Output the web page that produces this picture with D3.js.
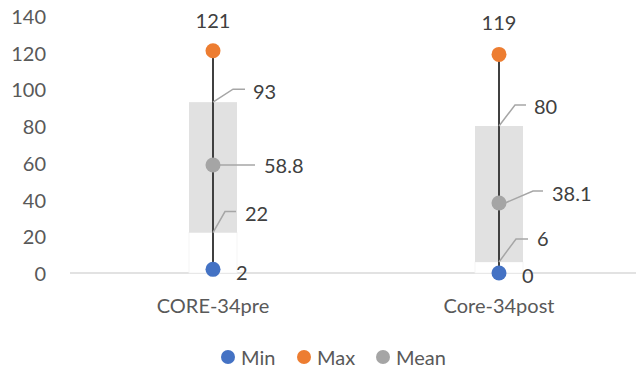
<!DOCTYPE html>
<html>
<head>
<meta charset="utf-8">
<script src="https://cdn.jsdelivr.net/npm/d3@7"></script>
<style>
  html, body { margin: 0; padding: 0; background: #fff; }
  svg { display: block; font-family: "Lato", "Open Sans", sans-serif; }
</style>
</head>
<body>
<svg id="chart" width="637" height="369"></svg>
<script>
// Score summary per questionnaire administration
const categories = ["CORE-34pre", "Core-34post"];
const minValues  = [2, 0];
const maxValues  = [121, 119];
const meanValues = [58.8, 38.1];
const boxLow     = [22, 6];
const boxHigh    = [93, 80];
const yTicks     = [0, 20, 40, 60, 80, 100, 120, 140];
const legendLabels = ["Min", "Max", "Mean"];

const colors = { Min: "#4472c4", Max: "#ed7d31", Mean: "#a5a5a5" };
const FS = 20;

// Label placement (leader elbow, leader end, text x, text dy) per category
const labelLayout = [
  {
    max:  { dy: -31 },
    min:  { dx: 23, dy: 3 },
    high: { elbow: [20, -13], end: 32, text: 40, ty: -11 },
    mean: { elbow: [42, 0],   end: 42, text: 51, ty: 0 },
    low:  { elbow: [12, -21], end: 23, text: 32, ty: -20 }
  },
  {
    max:  { dy: -32 },
    min:  { dx: 23, dy: 2 },
    high: { elbow: [16, -21], end: 27, text: 35, ty: -20 },
    mean: { elbow: [34, -12], end: 44, text: 53, ty: -10 },
    low:  { elbow: [17, -23], end: 29, text: 38, ty: -24 }
  }
];

const svg = d3.select("#chart");
const W = 637;

const x = d3.scaleBand().domain(categories).range([70, 642]);
const y = d3.scaleLinear().domain([0, 140]).range([273, 15.8]);

// Y axis tick labels
svg.append("g").selectAll("text")
  .data(yTicks).join("text")
  .attr("x", 46).attr("y", d => y(d))
  .attr("text-anchor", "end").attr("dominant-baseline", "central")
  .attr("fill", "#595959").attr("font-size", FS)
  .text(d => d);

// Baseline
svg.append("line")
  .attr("x1", 70).attr("x2", W - 1)
  .attr("y1", y(0)).attr("y2", y(0))
  .attr("stroke", "#d9d9d9").attr("stroke-width", 1.3);

// Category labels
svg.append("g").selectAll("text")
  .data(categories).join("text")
  .attr("x", d => x(d) + x.bandwidth() / 2).attr("y", 305)
  .attr("text-anchor", "middle").attr("dominant-baseline", "central")
  .attr("fill", "#595959").attr("font-size", FS)
  .text(d => d);

const boxW = 48;
const cx = i => x(categories[i]) + x.bandwidth() / 2;

categories.forEach((c, i) => {
  const g = svg.append("g");
  const xc = cx(i);

  // invisible lower stacked segment (0 to box low)
  g.append("rect")
    .attr("x", xc - boxW / 2).attr("width", boxW)
    .attr("y", y(boxLow[i])).attr("height", y(0) - y(boxLow[i]))
    .attr("fill", "#fff").attr("stroke", "#f3f3f3").attr("stroke-width", 0.8);

  // box from low to high
  g.append("rect")
    .attr("x", xc - boxW / 2).attr("width", boxW)
    .attr("y", y(boxHigh[i])).attr("height", y(boxLow[i]) - y(boxHigh[i]))
    .attr("fill", "#e1e1e1");

  // stem from min to max
  g.append("line")
    .attr("x1", xc).attr("x2", xc)
    .attr("y1", y(minValues[i])).attr("y2", y(maxValues[i]))
    .attr("stroke", "#404040").attr("stroke-width", 2);

  // markers
  [["Min", minValues[i]], ["Max", maxValues[i]], ["Mean", meanValues[i]]].forEach(([k, v]) => {
    g.append("circle").attr("cx", xc).attr("cy", y(v)).attr("r", 7.5).attr("fill", colors[k]);
  });

  const L = labelLayout[i];
  const label = (tx, ty, txt, anchor) => g.append("text")
    .attr("x", tx).attr("y", ty)
    .attr("text-anchor", anchor || "start").attr("dominant-baseline", "central")
    .attr("fill", "#404040").attr("font-size", FS).text(txt);

  label(xc, y(maxValues[i]) + L.max.dy, maxValues[i], "middle");
  label(xc + L.min.dx, y(minValues[i]) + L.min.dy, minValues[i]);

  const leader = (v, o, txt, startOff) => {
    const y0 = y(v);
    g.append("polyline")
      .attr("points", [[xc + startOff, y0], [xc + o.elbow[0], y0 + o.elbow[1]], [xc + o.end, y0 + o.elbow[1]]].map(p => p.join(",")).join(" "))
      .attr("fill", "none").attr("stroke", "#a6a6a6").attr("stroke-width", 1.5);
    label(xc + o.text, y0 + o.ty, txt);
  };
  leader(boxHigh[i], L.high, boxHigh[i], 0);
  leader(meanValues[i], L.mean, meanValues[i], 6);
  leader(boxLow[i], L.low, boxLow[i], 0);
});

// Legend
const legendX = [228, 304, 383];
const lg = svg.append("g");
legendLabels.forEach((k, i) => {
  lg.append("circle").attr("cx", legendX[i]).attr("cy", 357).attr("r", 7).attr("fill", colors[k]);
  lg.append("text").attr("x", legendX[i] + 13).attr("y", 357)
    .attr("dominant-baseline", "central").attr("fill", "#595959").attr("font-size", FS)
    .text(k);
});
</script>
</body>
</html>
